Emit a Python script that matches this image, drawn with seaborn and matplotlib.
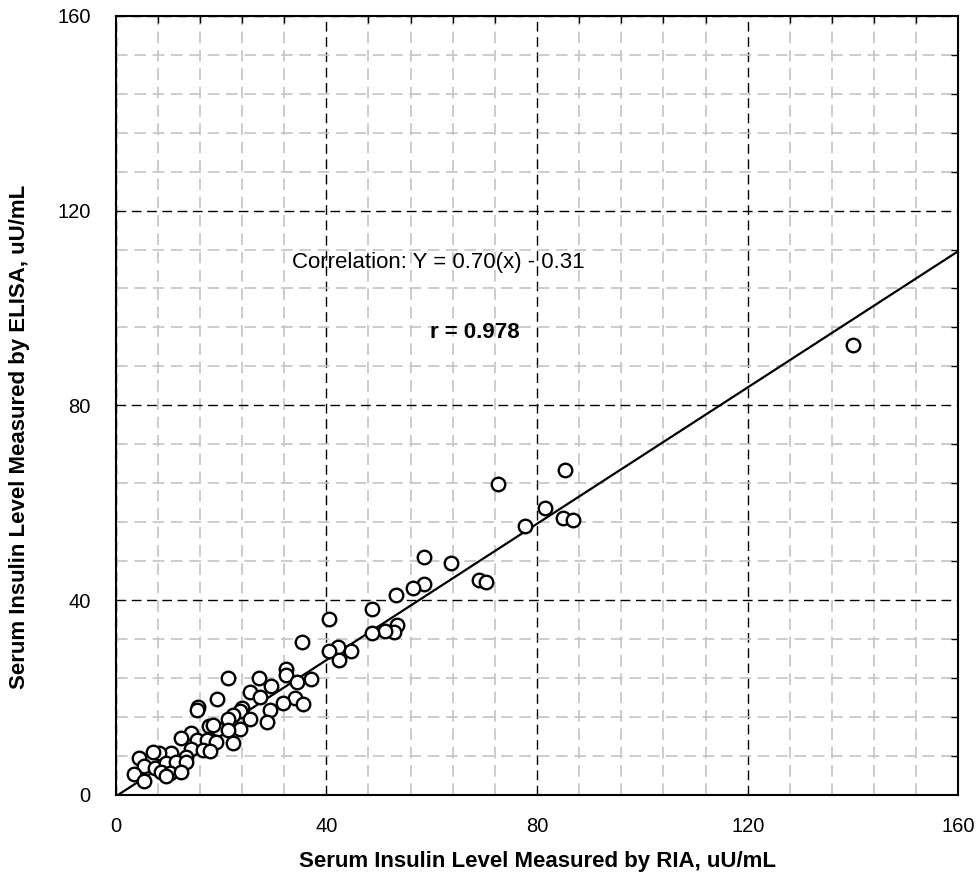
import numpy as np
import pandas as pd
import seaborn as sns
import matplotlib.pyplot as plt
from matplotlib.ticker import MultipleLocator

# valores (RIA x ELISA, uU/mL)
ria = [139.9, 85.3, 72.6, 81.6, 77.7, 85.0, 86.8, 58.5, 63.6, 68.9,
       70.3, 58.5, 56.5, 53.2, 48.6, 40.5, 53.5, 52.9, 51.1, 48.6,
       42.2, 44.6, 40.5, 42.4, 35.3, 21.3, 27.2, 32.4, 32.4, 37.1,
       34.5, 29.5, 25.5, 19.3, 27.4, 15.6, 15.5, 23.9, 23.6, 22.3,
       29.3, 34.1, 35.5, 31.8, 25.5, 28.8, 21.3, 23.6, 22.3, 17.7,
       19.4, 21.3, 14.4, 12.4, 15.5, 17.3, 19.0, 14.4, 16.5, 17.9,
       13.4, 10.5, 8.2, 7.1, 4.4, 5.4, 7.4, 9.5, 11.4, 13.3,
       8.7, 10.3, 12.4, 9.5, 3.4, 5.4, 18.5]
elisa = [92.4, 66.7, 63.8, 59.0, 55.2, 56.8, 56.5, 48.8, 47.6, 44.2,
         43.7, 43.3, 42.5, 41.1, 38.1, 36.1, 34.9, 33.5, 33.7, 33.2,
         30.3, 29.6, 29.6, 27.7, 31.5, 24.0, 24.1, 25.8, 24.6, 23.8,
         23.1, 22.4, 21.2, 19.7, 20.1, 18.1, 17.5, 17.8, 17.3, 16.5,
         17.5, 20.0, 18.7, 18.8, 15.5, 15.0, 15.5, 13.5, 10.7, 14.2,
         13.5, 13.3, 12.7, 11.6, 11.3, 11.3, 10.8, 9.4, 9.2, 9.1,
         7.7, 8.6, 8.6, 8.9, 7.5, 6.0, 5.6, 6.6, 6.7, 6.8,
         4.8, 4.5, 4.7, 3.8, 4.3, 2.9, 14.4]

slope = 0.70
intercept = -0.31
r_value = 0.978

df = pd.DataFrame({"RIA": ria, "ELISA": elisa})

sns.set_style("white")
plt.rcParams["font.family"] = ["Liberation Sans", "DejaVu Sans"]
plt.rcParams["text.color"] = "black"
plt.rcParams["axes.labelcolor"] = "black"
plt.rcParams["xtick.color"] = "black"
plt.rcParams["ytick.color"] = "black"
plt.rcParams["xtick.labelsize"] = 14.5
plt.rcParams["ytick.labelsize"] = 14.5

fig = plt.figure(figsize=(9.8, 8.76), dpi=100)
ax = fig.add_axes([0.118, 0.0925, 0.86, 0.8895])

# grade secundária e principal
ax.xaxis.set_major_locator(MultipleLocator(40))
ax.yaxis.set_major_locator(MultipleLocator(40))
ax.xaxis.set_minor_locator(MultipleLocator(8))
ax.yaxis.set_minor_locator(MultipleLocator(8))
ax.grid(which="minor", color="#c4c4c4", linestyle=(0, (7, 4)), linewidth=1.2)
ax.grid(which="major", color="black", linestyle=(0, (7, 4)), linewidth=1.0)
ax.set_axisbelow(True)

xs = np.array([0, 160])
ax.plot(xs, slope * xs + intercept, color="black", linewidth=1.6, zorder=2)

sns.scatterplot(data=df, x="RIA", y="ELISA", ax=ax, marker="o", s=95,
                facecolor="white", edgecolor="black", linewidth=1.7, zorder=3)

ax.set_xlim(0, 160)
ax.set_ylim(0, 160)
ax.tick_params(which="major", direction="out", length=7, width=1.3)
ax.tick_params(which="minor", direction="in", length=5, width=1.0,
               top=True, right=True)
ax.tick_params(axis="x", which="major", pad=9)
ax.tick_params(axis="y", which="major", pad=11)
for s in ax.spines.values():
    s.set_linewidth(1.5)
    s.set_color("black")

ax.set_xlabel("Serum Insulin Level Measured by RIA, uU/mL", fontsize=16,
              fontweight="bold")
ax.set_ylabel("Serum Insulin Level Measured by ELISA, uU/mL", fontsize=16,
              fontweight="bold")
ax.xaxis.label.set_va("center")
ax.yaxis.label.set_va("center")
ax.xaxis.set_label_coords(0.5, -0.086)
ax.yaxis.set_label_coords(-0.114, 0.46)

ax.text(33.4, 109.3, f"Correlation: Y = {slope:.2f}(x) - {abs(intercept):.2f}",
        fontsize=16, va="center", ha="left")
ax.text(59.7, 94.9, f"r = {r_value:.3f}", fontsize=16, fontweight="bold",
        va="center", ha="left")

plt.savefig("out.png", dpi=100)
